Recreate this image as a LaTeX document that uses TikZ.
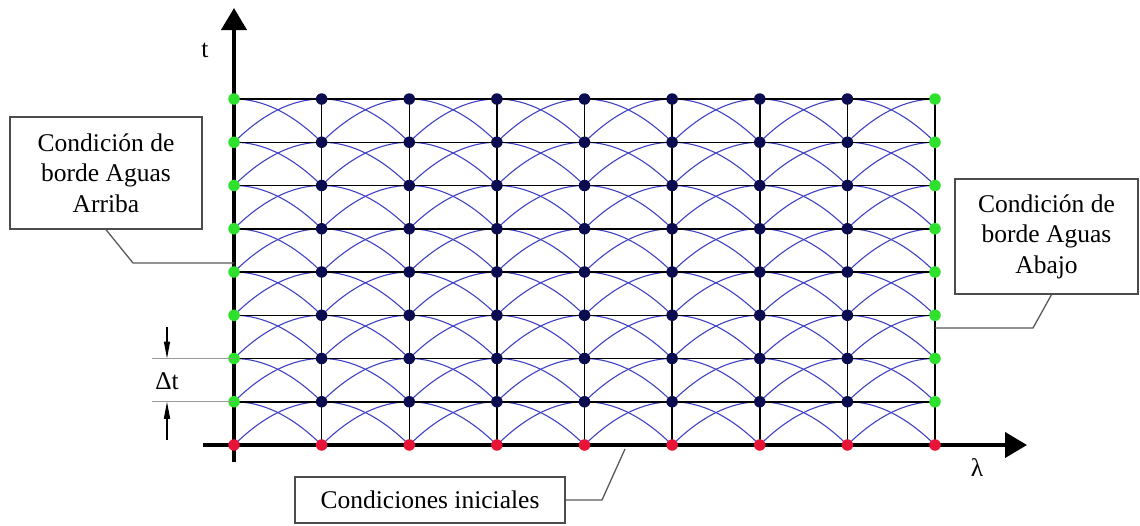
\documentclass[tikz,border=0pt]{standalone}
\usepackage{fontspec}
\setmainfont{Liberation Serif}
\usepackage{xcolor}
\usetikzlibrary{arrows.meta, positioning}

\definecolor{bordegreen}{RGB}{45,225,45}
\definecolor{nodenavy}{RGB}{12,12,80}
\definecolor{inired}{RGB}{232,20,55}
\definecolor{charblue}{RGB}{65,65,195}

\begin{document}
\begin{tikzpicture}[x=1pt, y=-1pt,
    axis/.style={line width=4pt, -{Triangle[length=22pt, width=25pt]}},
    gridline/.style={line width=1.5pt},
    charline/.style={draw=charblue, line width=1.1pt},
    dot/.style={circle, inner sep=0pt, minimum size=11.5pt, fill=#1},
    callout/.style={draw=black!70, line width=1.3pt, align=center, fill=white,
                    inner sep=0pt, font=\fontsize{25.5}{30.5}\selectfont},
    leader/.style={draw=black!65, line width=1.3pt},
    dimline/.style={draw=black!40, line width=1.3pt},
    dimarrow/.style={line width=1.3pt, -{Triangle[length=17pt, width=6pt]}},
    lbl/.style={font=\fontsize{25.5}{30.5}\selectfont}
  ]
  \useasboundingbox (0,0) rectangle (1140,525);

  % grid points
  \foreach \i in {0,...,8}
    \foreach \j in {0,...,8}
      \coordinate (p\i-\j) at ({234+87.625*\i},{445-43.25*\j});

  % characteristic curves
  \foreach \i in {0,...,7}
    \foreach \j in {0,...,7} {
      \pgfmathtruncatemacro{\ni}{\i+1}
      \pgfmathtruncatemacro{\nj}{\j+1}
      \draw[charline] (p\i-\j) .. controls +(29.2,-28.8) and +(-29.2,0) .. (p\ni-\nj);
      \draw[charline] (p\ni-\j) .. controls +(-29.2,-28.8) and +(29.2,0) .. (p\i-\nj);
    }

  % grid
  \foreach \j in {1,...,8}
    \draw[gridline] (p0-\j) -- (p8-\j);
  \foreach \i in {1,...,8}
    \draw[gridline] (p\i-0) -- (p\i-8);

  % axes
  \coordinate (ybot) at (234,462);
  \coordinate (ytop) at (234,8);
  \coordinate (xleft) at (203,445);
  \coordinate (xright) at (1027,445);
  \draw[axis] (ybot) -- (ytop);
  \draw[axis] (xleft) -- (xright);
  \node[lbl] (tlab) at (205,50) {t};
  \node[lbl] (lamlab) at (977,468) {λ};

  % nodes
  \foreach \j in {1,...,8} {
    \node[dot=bordegreen] (n0-\j) at (p0-\j) {};
    \node[dot=bordegreen] (n8-\j) at (p8-\j) {};
    \foreach \i in {1,...,7}
      \node[dot=nodenavy] (n\i-\j) at (p\i-\j) {};
  }
  \foreach \i in {0,...,8}
    \node[dot=inired] (n\i-0) at (p\i-0) {};

  % delta t
  \coordinate (dtl1) at (152,358.5);
  \coordinate (dtl2) at (152,401.75);
  \coordinate (dta1) at (167,327);
  \coordinate (dta2) at (167,440);
  \draw[dimline] (dtl1) -- (p0-2);
  \draw[dimline] (dtl2) -- (p0-1);
  \draw[dimarrow] (dta1) -- (167,358.5);
  \draw[dimarrow] (dta2) -- (167,401.75);
  \node[lbl] (dtlab) at (167,381) {Δt};

  % callouts
  \node[callout, minimum width=192pt, minimum height=112pt] (arriba) at (106,173)
    {Condición de\\borde Aguas\\Arriba};
  \node[callout, minimum width=183pt, minimum height=115pt] (abajo) at (1046.5,236.5)
    {Condición de\\borde Aguas\\Abajo};
  \node[callout, minimum width=270pt, minimum height=46pt] (inicial) at (430,500)
    {Condiciones iniciales};

  \coordinate (arrk) at (133,263);
  \coordinate (arre) at (234,263);
  \coordinate (abak) at (1033,328);
  \coordinate (abae) at (935,328);
  \coordinate (inik) at (602,500);
  \coordinate (inie) at (625,449);
  \draw[leader] (arriba.south) -- (arrk) -- (arre);
  \draw[leader] ([xshift=5pt]abajo.south) -- (abak) -- (abae);
  \draw[leader] (inicial.east) -- (inik) -- (inie);
\end{tikzpicture}
\end{document}
